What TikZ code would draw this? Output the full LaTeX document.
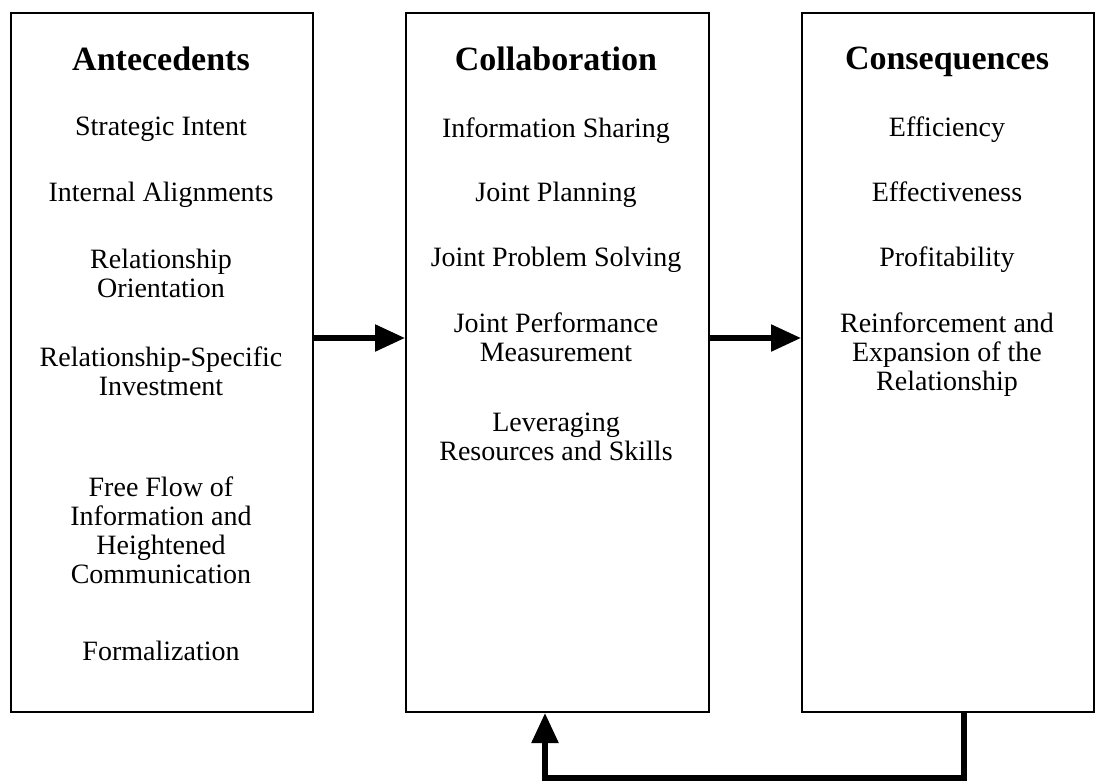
\documentclass[tikz,border=0pt]{standalone}
\usepackage{fontspec}
\setmainfont{Liberation Serif}
\usetikzlibrary{arrows.meta,positioning}

\begin{document}
\begin{tikzpicture}[
  x=1pt, y=-1pt,
  block/.style={draw, line width=2pt, anchor=north west, inner sep=0pt},
  heading/.style={anchor=north, inner sep=0pt, font=\fontsize{34}{36}\selectfont\bfseries},
  item/.style={anchor=north, inner sep=0pt, align=center,
               font=\fontsize{28}{29}\selectfont},
  flow/.style={-{Triangle[length=30pt,width=26pt]}, line width=5.5pt},
]
\useasboundingbox (0,0) rectangle (1095,782);

% Drei Spalten
\node[block, minimum width=302pt, minimum height=699pt] (ante)   at (10,12)  {};
\node[block, minimum width=303pt, minimum height=699pt] (collab) at (405,12) {};
\node[block, minimum width=292pt, minimum height=699pt] (conseq) at (801,12) {};

% Antecedents
\node[heading] (anteH) at (161,47)  {Antecedents};
\node[item] (a1) at (161,117) {Strategic Intent};
\node[item] (a2) at (161,182) {Internal Alignments};
\node[item] (a3) at (161,249) {Relationship\\Orientation};
\node[item] (a4) at (161,347) {Relationship-Specific\\Investment};
\node[item] (a5) at (161,477) {Free Flow of\\Information and\\Heightened\\Communication};
\node[item] (a6) at (161,641) {Formalization};

% Collaboration
\node[heading] (collabH) at (556,47) {Collaboration};
\node[item] (c1) at (556,118) {Information Sharing};
\node[item] (c2) at (556,182) {Joint Planning};
\node[item] (c3) at (556,247) {Joint Problem Solving};
\node[item] (c4) at (556,313) {Joint Performance\\Measurement};
\node[item] (c5) at (556,413) {Leveraging\\Resources and Skills};

% Consequences
\node[heading] (conseqH) at (947,47) {Consequences};
\node[item] (k1) at (947,117) {Efficiency};
\node[item] (k2) at (947,182) {Effectiveness};
\node[item] (k3) at (947,247) {Profitability};
\node[item] (k4) at (947,313) {Reinforcement and\\Expansion of the\\Relationship};

% Pfeile
\coordinate (lvl) at (0,338);
\coordinate (fbR) at (964,778);
\coordinate (fbL) at (545,778);
\draw[flow] (ante.east |- lvl) -- (collab.west |- lvl);
\draw[flow] (collab.east |- lvl) -- (conseq.west |- lvl);
\draw[flow] (conseq.south -| fbR) -- (fbR) -- (fbL) -- (collab.south -| fbL);
\end{tikzpicture}
\end{document}
